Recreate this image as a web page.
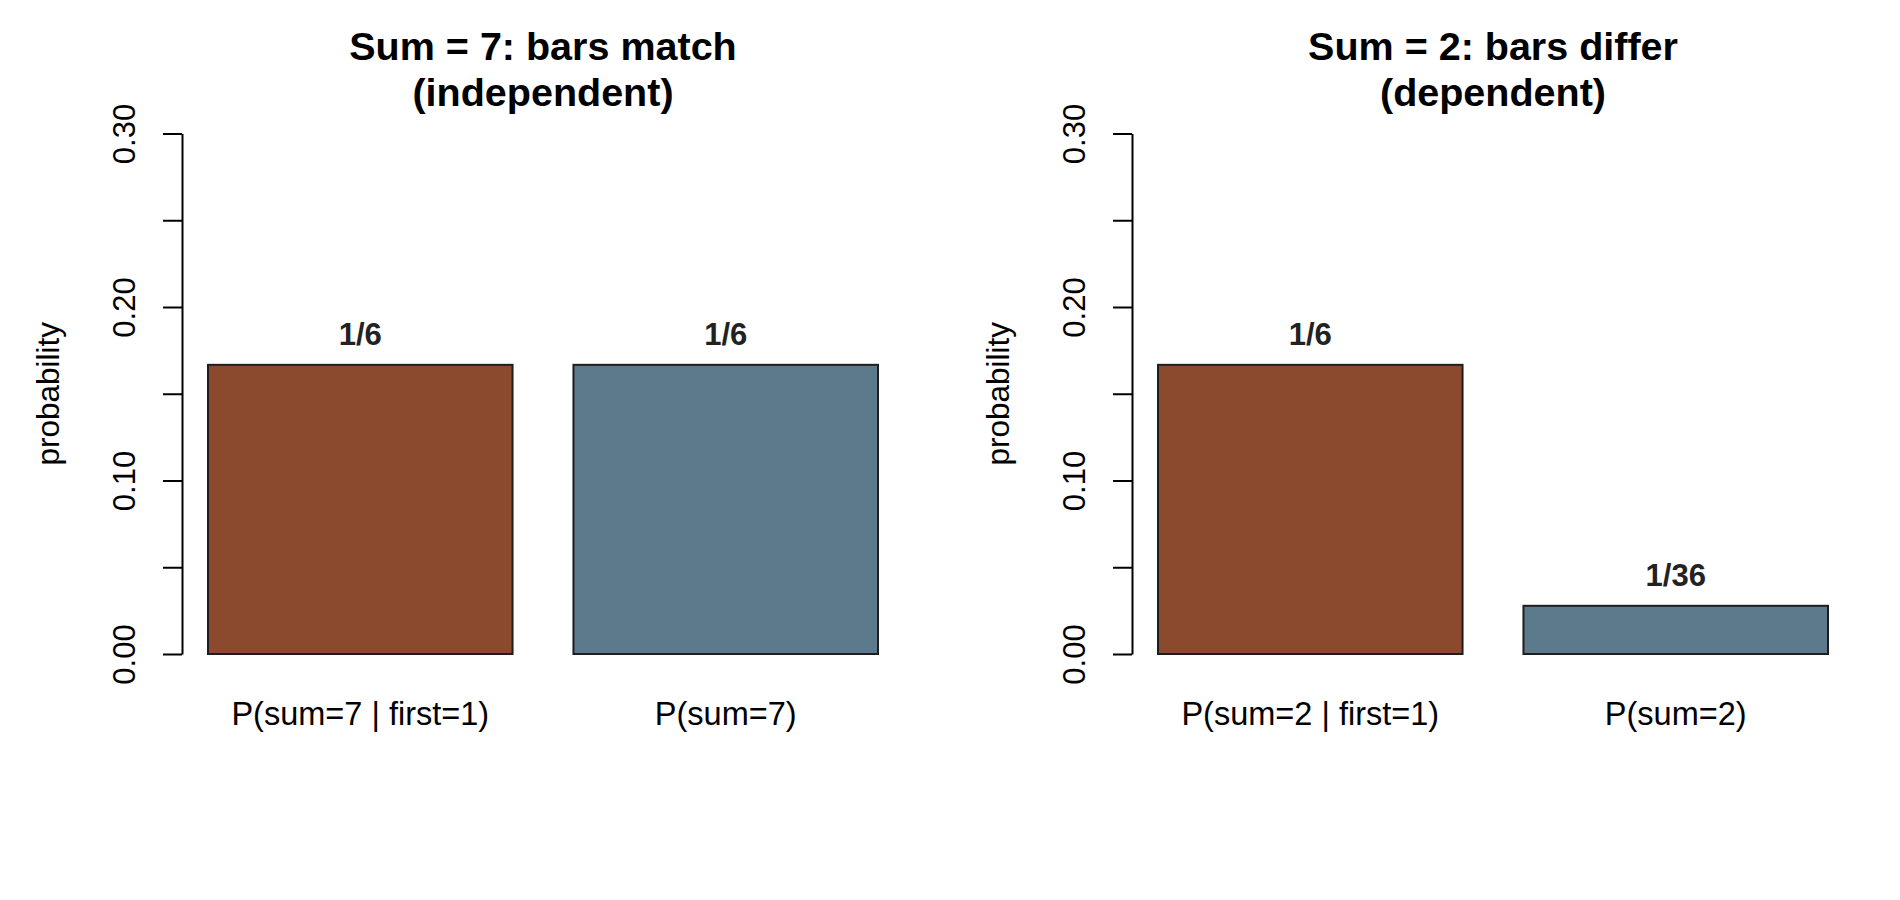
<!DOCTYPE html>
<html>
<head>
<meta charset="utf-8">
<script src="https://cdn.jsdelivr.net/npm/d3@7"></script>
<style>
  html, body { margin: 0; padding: 0; background: #fff; }
  svg { display: block; font-family: "Liberation Sans", Arial, sans-serif; }
</style>
</head>
<body>
<div id="wrapper"></div>
<script>
const panelTitles = [
  ["Sum = 7: bars match", "(independent)"],
  ["Sum = 2: bars differ", "(dependent)"],
];
const categories7 = ["P(sum=7 | first=1)", "P(sum=7)"];
const values7 = [1 / 6, 1 / 6];
const valueLabels7 = ["1/6", "1/6"];
const categories2 = ["P(sum=2 | first=1)", "P(sum=2)"];
const values2 = [1 / 6, 1 / 36];
const valueLabels2 = ["1/6", "1/36"];
const barColors = ["#8b4a2e", "#5c7a8c"];
const yTicks = [0, 0.05, 0.1, 0.15, 0.2, 0.25, 0.3];
const yTickLabels = ["0.00", "", "0.10", "", "0.20", "", "0.30"];
const yLabel = "probability";

function drawBarPanels() {
  const dimensions = {
    width: 1900,
    height: 900,
    panelWidth: 950,
    axisX: 182,
    barsLeft: 208,
    barsRight: 878,
    plotRight: 904,
    yTop: 133.5,
    yBottom: 654,
  };

  const svg = d3
    .select("#wrapper")
    .append("svg")
    .attr("width", dimensions.width)
    .attr("height", dimensions.height);

  const panels = [
    { title: panelTitles[0], categories: categories7, values: values7, labels: valueLabels7 },
    { title: panelTitles[1], categories: categories2, values: values2, labels: valueLabels2 },
  ];

  const yScale = d3
    .scaleLinear()
    .domain([0, 0.3])
    .range([dimensions.yBottom, dimensions.yTop]);

  panels.forEach((panel, p) => {
    const g = svg
      .append("g")
      .attr("transform", `translate(${p * dimensions.panelWidth},0)`);

    const xScale = d3
      .scaleBand()
      .domain(panel.categories)
      .range([dimensions.barsLeft, dimensions.barsRight])
      .paddingInner(1 / 6)
      .paddingOuter(0);

    const rows = panel.categories.map((c, i) => ({
      category: c,
      value: panel.values[i],
      label: panel.labels[i],
      color: barColors[i],
    }));

    // bars
    g.selectAll("rect")
      .data(rows)
      .enter()
      .append("rect")
      .attr("x", (d) => xScale(d.category))
      .attr("y", (d) => yScale(d.value))
      .attr("width", xScale.bandwidth())
      .attr("height", (d) => yScale(0) - yScale(d.value))
      .attr("fill", (d) => d.color)
      .attr("stroke", "#1e1e1e")
      .attr("stroke-width", 2);

    // value labels
    g.selectAll("text.value")
      .data(rows)
      .enter()
      .append("text")
      .attr("class", "value")
      .attr("x", (d) => xScale(d.category) + xScale.bandwidth() / 2)
      .attr("y", (d) => yScale(d.value) - 19.5)
      .attr("text-anchor", "middle")
      .attr("font-weight", "bold")
      .attr("font-size", 31)
      .attr("fill", "#222")
      .text((d) => d.label);

    // category labels
    g.selectAll("text.cat")
      .data(rows)
      .enter()
      .append("text")
      .attr("class", "cat")
      .attr("x", (d) => xScale(d.category) + xScale.bandwidth() / 2)
      .attr("y", 724.5)
      .attr("text-anchor", "middle")
      .attr("font-size", 32.5)
      .attr("fill", "#000")
      .text((d) => d.category);

    // y axis
    const yAxis = d3
      .axisLeft(yScale)
      .tickValues(yTicks)
      .tickFormat((d, i) => yTickLabels[i])
      .tickSize(19)
      .tickSizeOuter(0);

    const axisG = g
      .append("g")
      .attr("transform", `translate(${dimensions.axisX},0)`)
      .call(yAxis);
    axisG.select(".domain").attr("stroke-width", 2).attr("stroke", "#000");
    axisG.selectAll(".tick line").attr("stroke-width", 2).attr("stroke", "#000");
    axisG
      .selectAll(".tick text")
      .attr("transform", "rotate(-90)")
      .attr("x", 0)
      .attr("y", -47)
      .attr("dy", 0)
      .attr("text-anchor", "middle")
      .attr("font-size", 31)
      .attr("font-family", "Liberation Sans, Arial, sans-serif")
      .attr("fill", "#000");

    g.append("text")
      .attr("transform", `translate(59,${(dimensions.yTop + dimensions.yBottom) / 2}) rotate(-90)`)
      .attr("text-anchor", "middle")
      .attr("font-size", 31.5)
      .attr("fill", "#000")
      .text(yLabel);

    // title
    const titleX = (dimensions.axisX + dimensions.plotRight) / 2;
    g.selectAll("text.title")
      .data(panel.title)
      .enter()
      .append("text")
      .attr("class", "title")
      .attr("x", titleX)
      .attr("y", (_, i) => 59.5 + i * 46.5)
      .attr("text-anchor", "middle")
      .attr("font-weight", "bold")
      .attr("font-size", 39.5)
      .attr("fill", "#000")
      .text((d) => d);
  });
}

drawBarPanels();
</script>
</body>
</html>
